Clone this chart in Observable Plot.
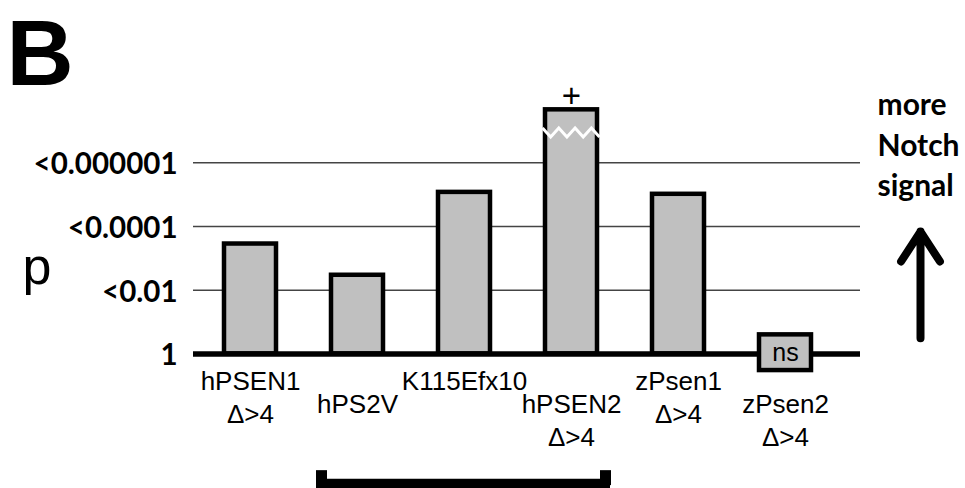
<!DOCTYPE html>
<html>
<head>
<meta charset="utf-8">
<script src="https://cdn.jsdelivr.net/npm/d3@7"></script>
<script src="https://cdn.jsdelivr.net/npm/@observablehq/plot@0.6"></script>
<style>
  html, body { margin: 0; padding: 0; background: #fff; overflow: hidden; }
  g[aria-label="p threshold"] text { letter-spacing: 1.5px; }
</style>
</head>
<body>
<div id="chart"></div>
<script>
// Notch signalling strength per presenilin construct, shown as -log10(p)
const constructs = ["hPSEN1", "hPS2V", "K115Efx10", "hPSEN2", "zPsen1", "zPsen2"];
const qualifiers = ["Δ>4", "", "", "Δ>4", "Δ>4", "Δ>4"];
const negLogP = [3.45, 2.47, 5.07, 7.66, 5.01, 0];
const significant = [true, true, true, true, true, false];
const flags = ["", "", "", "+", "", ""];
// value at which a bar's axis break is drawn (bar exceeds the scale)
const breakAt = [null, null, null, 6.93, null, null];

const pTicks = [0, 2, 4, 6];
const pTickLabels = ["1", "<0.01", "<0.0001", "<0.000001"];

const nsLabel = "ns";
const nsSpan = [-0.52, 0.6];
const bracketGroup = ["hPS2V", "hPSEN2"];

const rows = constructs.map((name, i) => ({
  name,
  value: negLogP[i],
  label: qualifiers[i] ? name + "\n" + qualifiers[i] : name,
  sig: significant[i],
  flag: flags[i],
  brk: breakAt[i],
  order: i
}));

const sans = "'Liberation Sans', Arial, sans-serif";
const bold = "Lato, 'Open Sans', sans-serif";

const plot = Plot.plot({
  width: 965,
  height: 488,
  marginLeft: 193,
  marginRight: 105,
  marginTop: 0,
  marginBottom: 0,
  style: {background: "white", fontFamily: sans, overflow: "visible"},
  x: {type: "band", domain: constructs, paddingInner: 0.51, paddingOuter: 0.37, align: 0.39, axis: null},
  y: {domain: [-4.22, 11.09], axis: null},
  marks: [
    // horizontal p-threshold lines
    Plot.ruleY(pTicks.filter((t) => t > 0), {stroke: "#444", strokeWidth: 1.4}),
    // significance bars
    Plot.barY(rows.filter((d) => d.sig), {
      x: "name", y: "value", fill: "#c0c0c0", stroke: "black", strokeWidth: 4.5
    }),
    // baseline at p = 1
    Plot.ruleY([0], {stroke: "black", strokeWidth: 5.5}),
    // non-significant construct: boxed "ns" on the baseline
    Plot.barY(rows.filter((d) => !d.sig), {
      x: "name", y1: () => nsSpan[0], y2: () => nsSpan[1],
      fill: "#c0c0c0", stroke: "black", strokeWidth: 4.5
    }),
    Plot.text(rows.filter((d) => !d.sig), {
      x: "name", y: () => (nsSpan[0] + nsSpan[1]) / 2, text: () => nsLabel, fontSize: 25
    }),
    // flag above a bar
    Plot.text(rows.filter((d) => d.flag), {
      x: "name", y: "value", text: "flag", dy: -13.5, fontSize: 33
    }),
    // y tick labels
    Plot.text(pTicks, {
      y: (d) => d, text: (d, i) => pTickLabels[i],
      frameAnchor: "left", textAnchor: "end", dx: -16, dy: 2,
      fontSize: 29.5, fontWeight: "bold", fontFamily: bold, ariaLabel: "p threshold"
    }),
    // axis title
    Plot.text(["p"], {
      text: (d) => d, frameAnchor: "top-left", textAnchor: "start", lineAnchor: "top",
      dx: -171, dy: 247, fontSize: 52
    }),
    // panel letter
    Plot.text(["B"], {
      text: (d) => d, frameAnchor: "top-left", textAnchor: "start", lineAnchor: "top",
      dx: -187, dy: 18, fontSize: 93, fontWeight: "bold"
    }),
    // construct labels, staggered in two rows
    Plot.text(rows, {
      filter: (d) => d.order % 2 === 0,
      x: "name", y: () => 0, text: "label", lineAnchor: "top", lineHeight: 1.25,
      dy: 13, fontSize: 26
    }),
    Plot.text(rows, {
      filter: (d) => d.order % 2 === 1,
      x: "name", y: () => 0, text: "label", lineAnchor: "top", lineHeight: 1.25,
      dy: 36, fontSize: 26
    }),
    // direction note and arrow on the right
    Plot.text(["more\nNotch\nsignal"], {
      text: (d) => d, frameAnchor: "top-right", textAnchor: "start", lineAnchor: "top",
      dx: 17, dy: 86, fontSize: 30, fontWeight: "bold", fontFamily: bold, lineHeight: 1.35
    }),
    Plot.arrow([{}], {
      x: () => constructs[constructs.length - 1], y1: () => 0.49, y2: () => 3.84,
      dx: 135, stroke: "black", strokeWidth: 8, headAngle: 66, headLength: 7.8
    }),
    // grouping bracket below the labels
    Plot.ruleY([{}], {
      y: () => -4.13, x1: () => bracketGroup[0], x2: () => bracketGroup[1],
      insetLeft: -15, insetRight: -13, stroke: "black", strokeWidth: 14
    }),
    Plot.ruleX([{}], {
      x: () => bracketGroup[0], y1: () => -3.66, y2: () => -4.13, dx: -36,
      stroke: "black", strokeWidth: 11
    }),
    Plot.ruleX([{}], {
      x: () => bracketGroup[1], y1: () => -3.66, y2: () => -4.13, dx: 34,
      stroke: "black", strokeWidth: 11
    })
  ]
});

// white zig-zag marking the axis break on bars that run off the scale
const xs = plot.scale("x");
const ys = plot.scale("y");
const bw = typeof xs.bandwidth === "function" ? xs.bandwidth() : xs.bandwidth;
const svg = d3.select(plot);
for (const d of rows) {
  if (d.brk == null) continue;
  const x0 = xs.apply(d.name) - 2.5;
  const w = bw + 5;
  const yc = ys.apply(d.brk);
  const teeth = 7, amp = 4.5;
  const pts = d3.range(teeth + 1).map((k) => [x0 + (w * k) / teeth, yc + (k % 2 ? amp : -amp)]);
  svg.append("path")
    .attr("d", d3.line()(pts))
    .attr("fill", "none")
    .attr("stroke", "white")
    .attr("stroke-width", 3);
}

document.getElementById("chart").append(plot);
</script>
</body>
</html>
